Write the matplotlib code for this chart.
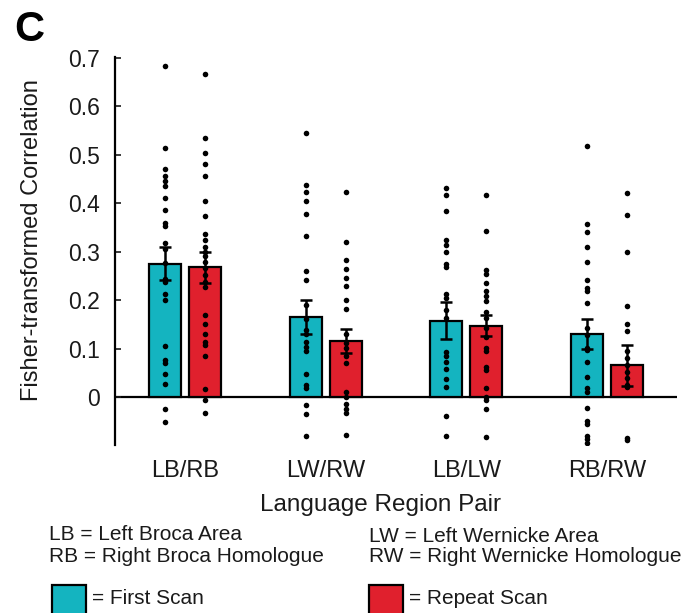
import matplotlib
matplotlib.use("Agg")
import matplotlib.pyplot as plt
from matplotlib.patches import Rectangle
import numpy as np

plt.rcParams["font.family"] = ["Liberation Sans", "DejaVu Sans"]

PAIRS = ["LB/RB", "LW/RW", "LB/LW", "RB/RW"]
FIRST_MEAN = [0.276, 0.165, 0.158, 0.130]
FIRST_SEM = [0.034, 0.035, 0.038, 0.031]
REPEAT_MEAN = [0.268, 0.117, 0.148, 0.066]
REPEAT_SEM = [0.032, 0.025, 0.022, 0.043]

# individual subject values
lbrb_first = [0.683, 0.514, 0.471, 0.457, 0.446, 0.436, 0.411, 0.387, 0.359, 0.354, 0.318, 0.306,
              0.277, 0.244, 0.239, 0.214, 0.200, 0.107, 0.077, 0.071, 0.049, 0.028, -0.023, -0.050]
lbrb_repeat = [0.667, 0.536, 0.505, 0.481, 0.456, 0.405, 0.374, 0.337, 0.324, 0.311, 0.300, 0.292, 0.280,
               0.266, 0.252, 0.239, 0.228, 0.170, 0.151, 0.130, 0.114, 0.108, 0.086, 0.017, -0.005, -0.031]
lwrw_first = [0.546, 0.439, 0.423, 0.405, 0.379, 0.333, 0.261, 0.242, 0.190, 0.162, 0.139, 0.131,
              0.115, 0.105, 0.096, 0.048, 0.025, 0.019, -0.015, -0.034, -0.079]
lwrw_repeat = [0.424, 0.321, 0.283, 0.265, 0.247, 0.229, 0.201, 0.182, 0.130, 0.112, 0.101, 0.086,
               0.071, 0.012, 0.002, -0.014, -0.024, -0.031, -0.077]
lblw_first = [0.432, 0.418, 0.384, 0.324, 0.315, 0.300, 0.276, 0.268, 0.213, 0.206, 0.180, 0.163,
              0.093, 0.086, 0.074, 0.059, 0.038, 0.021, -0.038, -0.079]
lblw_repeat = [0.417, 0.344, 0.263, 0.254, 0.235, 0.220, 0.209, 0.198, 0.177, 0.163, 0.143, 0.125,
               0.101, 0.096, 0.062, 0.056, 0.019, 0.002, -0.005, -0.024, -0.082]
rbrw_first = [0.519, 0.358, 0.341, 0.311, 0.280, 0.242, 0.226, 0.219, 0.195, 0.143, 0.129, 0.101,
              0.098, 0.073, 0.043, 0.019, 0.011, -0.021, -0.049, -0.055, -0.080, -0.086, -0.094]
rbrw_repeat = [0.421, 0.376, 0.300, 0.188, 0.151, 0.137, 0.095, 0.081, 0.067, 0.053, 0.040, 0.026,
               0.021, -0.084, -0.087]

FIRST_DOTS = [lbrb_first, lwrw_first, lblw_first, rbrw_first]
REPEAT_DOTS = [lbrb_repeat, lwrw_repeat, lblw_repeat, rbrw_repeat]

CYAN = "#14b4c0"
RED = "#e0202d"
TXT = "#1a1a1a"
W, H = 687, 613


def px(x, y):
    # figure pixel (from top-left) -> figure fraction
    return x / W, 1 - y / H


def main():
    fig = plt.figure(figsize=(W / 100, H / 100), dpi=100)
    ax = fig.add_axes([115 / W, 1 - 445 / H, 562 / W, 388 / H])

    x = np.arange(len(PAIRS))
    off, bw = 0.142, 0.228
    ax.bar(x - off, FIRST_MEAN, bw, color=CYAN, edgecolor="black", linewidth=1.6, zorder=2)
    ax.bar(x + off, REPEAT_MEAN, bw, color=RED, edgecolor="black", linewidth=1.6, zorder=2)
    ax.errorbar(x - off, FIRST_MEAN, yerr=FIRST_SEM, fmt="none", ecolor="black",
                elinewidth=1.8, capsize=4, capthick=1.8, zorder=3)
    ax.errorbar(x + off, REPEAT_MEAN, yerr=REPEAT_SEM, fmt="none", ecolor="black",
                elinewidth=1.8, capsize=4, capthick=1.8, zorder=3)

    for i in range(len(PAIRS)):
        ax.scatter(np.full(len(FIRST_DOTS[i]), x[i] - off), FIRST_DOTS[i], s=16, color="black", zorder=4, linewidths=0)
        ax.scatter(np.full(len(REPEAT_DOTS[i]), x[i] + off), REPEAT_DOTS[i], s=16, color="black", zorder=4, linewidths=0)

    ax.axhline(0, color="black", linewidth=1.6, zorder=1)
    ax.set_xlim(-0.5, 3.5)
    ax.set_ylim(-0.098, 0.702)
    for s in ["top", "right", "bottom"]:
        ax.spines[s].set_visible(False)
    ax.spines["left"].set_linewidth(1.6)

    ax.set_yticks(np.arange(0, 0.71, 0.1))
    ax.set_yticklabels(["0"] + [f"{v:.1f}" for v in np.arange(0.1, 0.71, 0.1)])
    ax.tick_params(axis="y", direction="in", length=4, width=1.2, labelsize=16.5, pad=11, colors=TXT)
    ax.set_xticks(x)
    ax.set_xticklabels(PAIRS)
    ax.tick_params(axis="x", length=0, labelsize=17, pad=11, colors=TXT)

    fig.text(*px(14, 30), "C", fontsize=30, fontweight="bold", ha="left", va="center", color="black")
    fig.text(*px(32, 240), "Fisher-transformed Correlation", fontsize=17, rotation=90,
             ha="center", va="center", color=TXT)
    fig.text(*px(380, 505), "Language Region Pair", fontsize=17.5, ha="center", va="center", color=TXT)

    fig.text(*px(49, 534), "LB = Left Broca Area", fontsize=15, ha="left", va="center", color=TXT)
    fig.text(*px(49, 556), "RB = Right Broca Homologue", fontsize=15, ha="left", va="center", color=TXT)
    fig.text(*px(369, 536), "LW = Left Wernicke Area", fontsize=15, ha="left", va="center", color=TXT)
    fig.text(*px(369, 557), "RW = Right Wernicke Homologue", fontsize=15, ha="left", va="center", color=TXT)

    for x0, col, label in [(52, CYAN, "= First Scan"), (369, RED, "= Repeat Scan")]:
        fig.add_artist(Rectangle(px(x0, 619), 34 / W, 34 / H, transform=fig.transFigure,
                                 facecolor=col, edgecolor="black", linewidth=1.6))
        fig.text(*px(x0 + 40, 598), label, fontsize=15, ha="left", va="center", color=TXT)

    fig.savefig("out.png", dpi=100)
    plt.close(fig)


if __name__ == "__main__":
    main()
